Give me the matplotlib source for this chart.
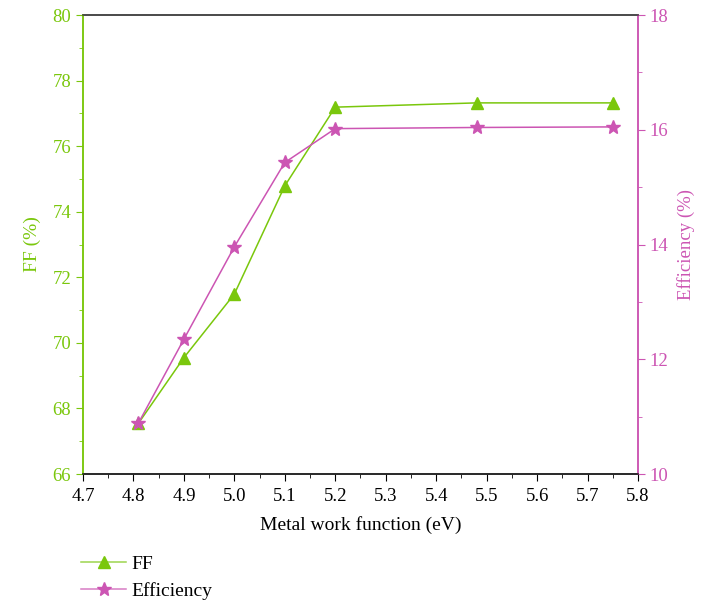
import matplotlib.pyplot as plt
from matplotlib.ticker import MultipleLocator
from matplotlib.lines import Line2D

plt.rcParams['font.family'] = ['Liberation Serif', 'DejaVu Serif']

# work function sweep
wf = [4.81, 4.9, 5.0, 5.1, 5.2, 5.48, 5.75]
ff = [67.55, 69.55, 71.49, 74.79, 77.19, 77.32, 77.32]
eff = [10.89, 12.35, 13.96, 15.43, 16.02, 16.04, 16.05]

green = '#7ac70c'
pink = '#cc55b3'

fig = plt.figure(figsize=(7.01, 6.13), dpi=100)
ax = fig.add_axes([0.1184, 0.2267, 0.7917, 0.7488])
ax2 = ax.twinx()

ax.plot(wf, ff, color=green, lw=1.1, marker='^', ms=9, zorder=3)
ax2.plot(wf, eff, color=pink, lw=1.1, marker='*', ms=10.5, zorder=3)

ax.set_xlim(4.7, 5.8)
ax.set_ylim(66, 80)
ax2.set_ylim(10, 18)

ax.xaxis.set_major_locator(MultipleLocator(0.1))
ax.xaxis.set_minor_locator(MultipleLocator(0.05))
ax.yaxis.set_major_locator(MultipleLocator(2))
ax.yaxis.set_minor_locator(MultipleLocator(1))
ax2.yaxis.set_major_locator(MultipleLocator(2))
ax2.yaxis.set_minor_locator(MultipleLocator(1))

ax.set_xticklabels(['%.1f' % v for v in ax.get_xticks()])

fs = 13.5
ax.tick_params(axis='x', which='both', direction='out', labelsize=fs, colors='black', pad=5)
ax.tick_params(axis='x', which='major', length=5)
ax.tick_params(axis='x', which='minor', length=3)
ax.tick_params(axis='y', which='both', direction='out', color=green, labelcolor=green, labelsize=fs)
ax.tick_params(axis='y', which='major', length=5)
ax.tick_params(axis='y', which='minor', length=3)
ax2.tick_params(axis='y', which='both', direction='out', color=pink, labelcolor=pink, labelsize=fs)
ax2.tick_params(axis='y', which='major', length=5)
ax2.tick_params(axis='y', which='minor', length=3)

for a in (ax, ax2):
    a.spines['left'].set_color(green)
    a.spines['right'].set_color(pink)
    a.spines['top'].set_color('#444444')
    a.spines['bottom'].set_color('#222222')
    for s in a.spines.values():
        s.set_linewidth(1.1)

ax.set_xlabel('Metal work function (eV)', fontsize=fs + 0.5, labelpad=8)
ax.set_ylabel('FF (%)', fontsize=fs + 0.5, color=green, labelpad=8)
ax2.set_ylabel('Efficiency (%)', fontsize=fs, color=pink, labelpad=6)

handles = [
    Line2D([], [], color='#9cd44e', lw=1.1, marker='^', ms=9,
           mfc=green, mec=green),
    Line2D([], [], color='#d77cc4', lw=1.1, marker='*', ms=10.5,
           mfc=pink, mec=pink),
]
fig.legend(handles, ['FF', 'Efficiency'], loc='upper left',
           bbox_to_anchor=(0.116, 0.094), frameon=False, fontsize=fs + 0.5,
           handlelength=2.3, handletextpad=0.25, labelspacing=0.45,
           borderaxespad=0, borderpad=0)

fig.savefig('out.png', dpi=100)
